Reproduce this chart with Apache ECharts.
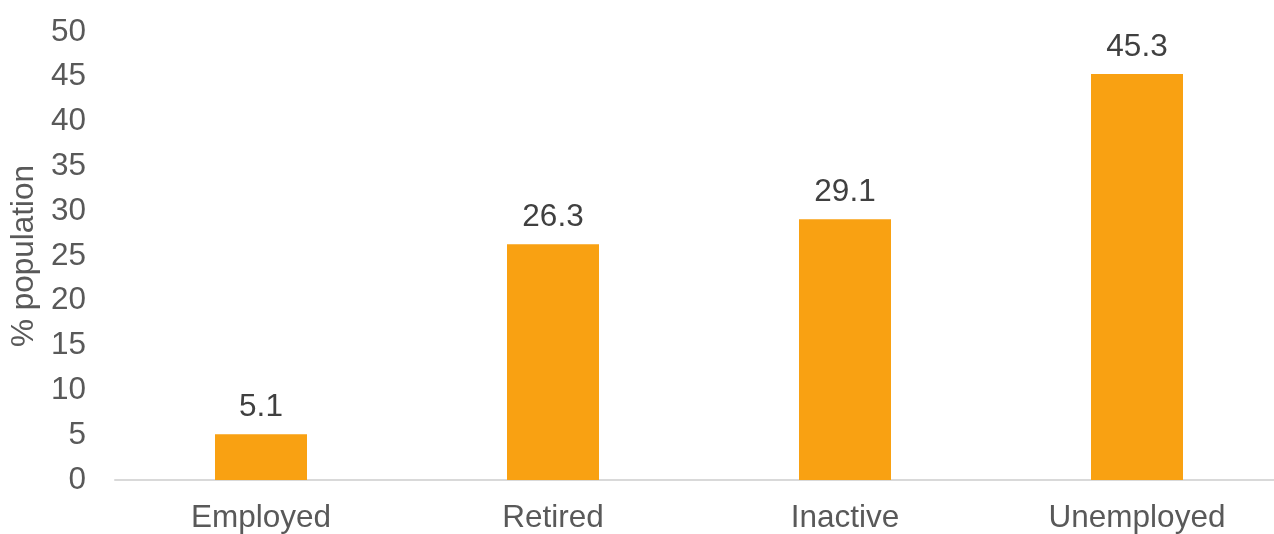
<!DOCTYPE html>
<html><head><meta charset="utf-8">
<script src="https://cdn.jsdelivr.net/npm/echarts@6/dist/echarts.min.js"></script>
<style>html,body{margin:0;padding:0;background:#fff;overflow:hidden;width:1274px;height:534px}#c{width:1290px;height:534px}</style>
</head><body><div id="c"></div>
<script>
const categories = ["Employed", "Retired", "Inactive", "Unemployed"];
const values = [5.1, 26.3, 29.1, 45.3];
const yTicks = { min: 0, max: 50, interval: 5 };
const yName = "% population";

const FONT = 'Liberation Sans, Arial, sans-serif';
const chart = echarts.init(document.getElementById('c'), null, { renderer: 'canvas' });
chart.setOption({
  animation: false,
  grid: { left: 115, right: 7, top: 32, bottom: 54, containLabel: false },
  xAxis: {
    type: 'category', data: categories,
    axisLine: { lineStyle: { color: '#d9d9d9', width: 2 } },
    axisTick: { show: false },
    axisLabel: { color: '#595959', fontSize: 31.5, fontFamily: FONT, margin: 22 }
  },
  yAxis: {
    type: 'value', min: yTicks.min, max: yTicks.max, interval: yTicks.interval,
    name: yName, nameLocation: 'middle', nameGap: 66, nameRotate: 90,
    nameTextStyle: { color: '#595959', fontSize: 31.5, fontFamily: FONT },
    axisLine: { show: false }, axisTick: { show: false }, splitLine: { show: false },
    axisLabel: { color: '#595959', fontSize: 31.5, fontFamily: FONT, margin: 29 }
  },
  series: [{
    type: 'bar', data: values, barWidth: 92,
    itemStyle: { color: '#F9A112' },
    label: { show: true, position: 'top', distance: 11, color: '#404040', fontSize: 31.5, fontFamily: FONT }
  }]
});
</script></body></html>
